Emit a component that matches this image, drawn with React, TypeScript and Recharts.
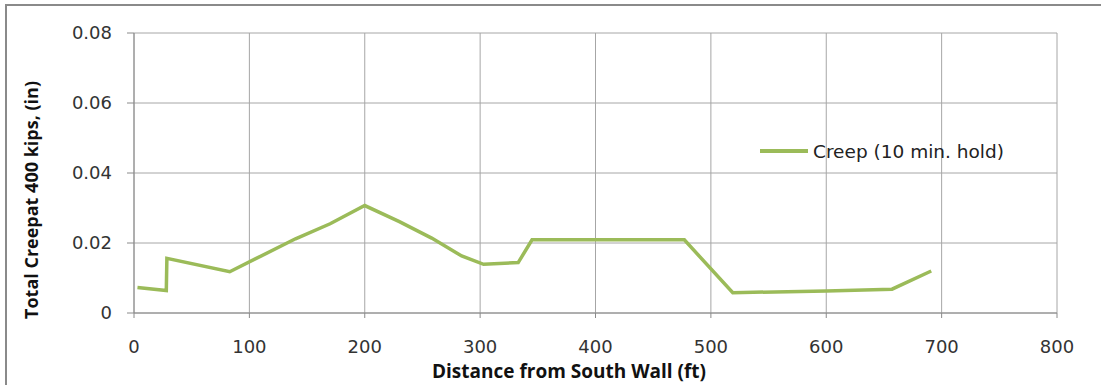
import { LineChart, Line, XAxis, YAxis, CartesianGrid } from "recharts";

// distance from south wall (ft) and total creep (in)
const distance = [3, 28, 28.5, 83, 140, 170, 200, 230, 258, 284, 303, 333, 345, 400, 477, 519, 600, 657, 691];
const creep = [0.0073, 0.0064, 0.0156, 0.0118, 0.0212, 0.0255, 0.0307, 0.0261, 0.0214, 0.0163, 0.0139, 0.0144, 0.0209, 0.0209, 0.0209, 0.0058, 0.0063, 0.0068, 0.012];
const xTicks = [0, 100, 200, 300, 400, 500, 600, 700, 800];
const yTicks = [0, 0.02, 0.04, 0.06, 0.08];
const seriesName = "Creep (10 min. hold)";

const data = distance.map((d, i) => ({ d, v: creep[i] }));

const TICK_FONT = "'DejaVu Sans', sans-serif";
const LABEL_FONT = "'Open Sans', 'DejaVu Sans', sans-serif";
const GREEN = "#9bbb59";

export default function App() {
  return (
    <div style={{ position: "absolute", left: 0, top: 0, width: 1101, height: 385, background: "#fff", overflow: "hidden" }}>
      <div
        style={{
          position: "absolute",
          left: 5,
          top: 4,
          width: 1101,
          height: 385,
          borderTop: "2px solid #8a8a8a",
          borderLeft: "2px solid #8a8a8a",
        }}
      />
      <div style={{ position: "absolute", left: 0, top: 0 }}>
        <LineChart
          width={1101}
          height={385}
          data={data}
          margin={{ top: 33, right: 44, bottom: 0, left: 0 }}
        >
          <CartesianGrid stroke="#a6a6a6" strokeWidth={1} />
          <XAxis
            dataKey="d"
            type="number"
            domain={[0, 800]}
            ticks={xTicks}
            interval={0}
            height={72}
            stroke="#8a8a8a"
            tickSize={5}
            tickMargin={22}
            tick={{ fill: "#333", fontSize: 18, fontFamily: TICK_FONT }}
          />
          <YAxis
            type="number"
            domain={[0, 0.08]}
            ticks={yTicks}
            interval={0}
            width={134}
            stroke="#8a8a8a"
            tickSize={7}
            tickMargin={15}
            tickFormatter={(v: number) => (v === 0 ? "0" : v.toFixed(2))}
            tick={{ fill: "#333", fontSize: 18, fontFamily: TICK_FONT }}
          />
          <Line
            type="linear"
            dataKey="v"
            name={seriesName}
            stroke={GREEN}
            strokeWidth={3.5}
            dot={false}
            isAnimationActive={false}
          />
          <text
            x={31}
            y={200}
            transform="rotate(-90 31 200)"
            textAnchor="middle"
            dominantBaseline="central"
            fontFamily={LABEL_FONT}
            fontWeight="bold"
            fontSize={18}
            fill="#111"
          >
            Total Creepat 400 kips, (in)
          </text>
          <text
            x={569}
            y={371}
            textAnchor="middle"
            dominantBaseline="central"
            fontFamily={LABEL_FONT}
            fontWeight="bold"
            fontSize={19}
            fill="#111"
          >
            Distance from South Wall (ft)
          </text>
        </LineChart>
      </div>
      <div
        style={{
          position: "absolute",
          left: 760,
          top: 139,
          height: 24,
          display: "flex",
          alignItems: "center",
          fontFamily: TICK_FONT,
          fontSize: 18.5,
          color: "#222",
          whiteSpace: "nowrap",
        }}
      >
        <span style={{ display: "inline-block", width: 48, height: 3.5, background: GREEN, marginRight: 5 }} />
        <span>{seriesName}</span>
      </div>
    </div>
  );
}
